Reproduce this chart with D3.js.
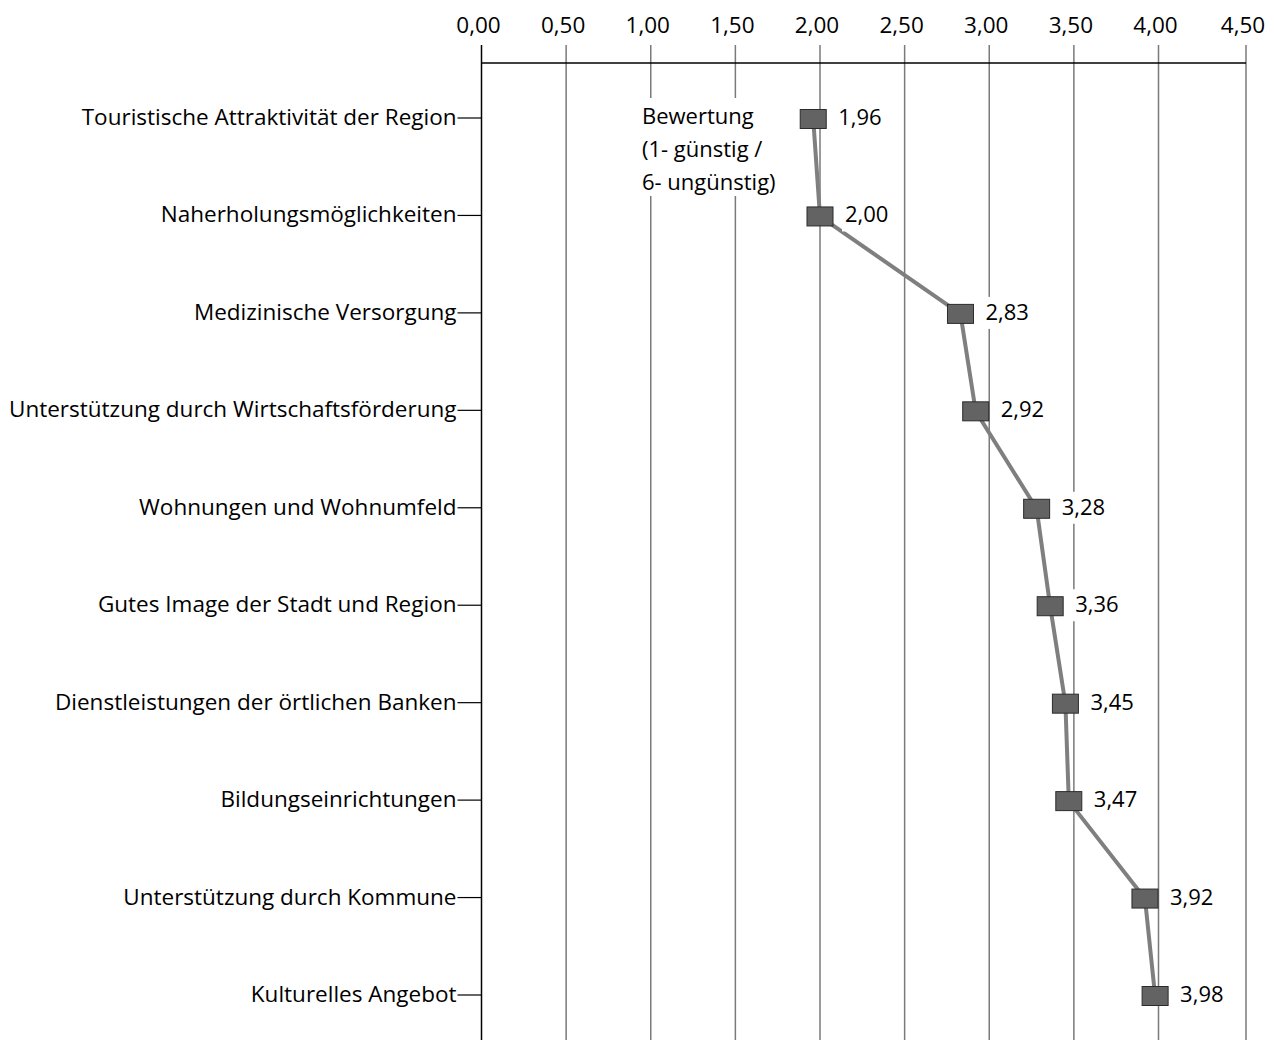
<!DOCTYPE html>
<html><head><meta charset="utf-8">
<script src="https://cdn.jsdelivr.net/npm/d3@7"></script>
<style>
html,body{margin:0;padding:0;background:#fff;}
text{font-family:"Open Sans",Lato,sans-serif;fill:#000;}
</style></head>
<body>
<svg id="chart" width="1274" height="1040"></svg>
<script>
const categories = [
  "Touristische Attraktivität der Region",
  "Naherholungsmöglichkeiten",
  "Medizinische Versorgung",
  "Unterstützung durch Wirtschaftsförderung",
  "Wohnungen und Wohnumfeld",
  "Gutes Image der Stadt und Region",
  "Dienstleistungen der örtlichen Banken",
  "Bildungseinrichtungen",
  "Unterstützung durch Kommune",
  "Kulturelles Angebot"
];
const values = [1.96, 2.00, 2.83, 2.92, 3.28, 3.36, 3.45, 3.47, 3.92, 3.98];
const tickValues = [0, 0.5, 1, 1.5, 2, 2.5, 3, 3.5, 4, 4.5];
const noteLines = ["Bewertung", "(1- günstig /", "6- ungünstig)"];

(function () {
const svg = d3.select("#chart");
const fmt = v => d3.format(".2f")(v).replace(".", ",");

const x = d3.scaleLinear().domain([0, 4, 4.5]).range([481.5, 1158.5, 1246]);
const y = d3.scalePoint().domain(categories).range([118, 995]);
const axisY = 63, bottomY = 1040;

svg.append("g").selectAll("line").data(tickValues).join("line")
  .attr("x1", d => x(d)).attr("x2", d => x(d))
  .attr("y1", 45).attr("y2", bottomY)
  .attr("stroke", d => d === 0 ? "#000" : "#7a7a7a")
  .attr("stroke-width", 1.5);

svg.append("g").selectAll("text").data(tickValues).join("text")
  .attr("x", d => x(d) - 3).attr("y", 33)
  .attr("text-anchor", "middle")
  .style("font-size", "22.5px")
  .text(d => fmt(d));

svg.append("line").attr("x1", x(0)).attr("x2", x(4.5))
  .attr("y1", axisY).attr("y2", axisY).attr("stroke", "#000").attr("stroke-width", 1.5);

const yg = svg.append("g");
yg.selectAll("line").data(categories).join("line")
  .attr("x1", x(0) - 24).attr("x2", x(0))
  .attr("y1", d => y(d)).attr("y2", d => y(d))
  .attr("stroke", "#000").attr("stroke-width", 1.2);
yg.selectAll("text").data(categories).join("text")
  .attr("x", x(0) - 25).attr("y", d => y(d) + 7)
  .attr("text-anchor", "end")
  .style("font-size", "22.5px")
  .text(d => d);

const note = svg.append("g");
note.append("rect").attr("x", 636).attr("y", 98).attr("width", 152).attr("height", 98).attr("fill", "#fff");
note.selectAll("text").data(noteLines).join("text")
  .attr("x", 642).attr("y", (d, i) => 124 + i * 33)
  .style("font-size", "22px")
  .text(d => d);

const pts = categories.map((c, i) => [x(values[i]), y(c) + 1]);
svg.append("path").datum(pts)
  .attr("d", d3.line())
  .attr("fill", "none").attr("stroke", "#7f7f7f").attr("stroke-width", 4);

const lab = svg.append("g");
lab.selectAll("rect").data(values).join("rect")
  .attr("x", d => x(d) + 22).attr("y", (d, i) => y(categories[i]) - 16)
  .attr("width", 52).attr("height", 32).attr("fill", "#fff");
lab.selectAll("text").data(values).join("text")
  .attr("x", d => x(d) + 25).attr("y", (d, i) => y(categories[i]) + 7)
  .style("font-size", "22px")
  .text(d => fmt(d));

svg.append("g").selectAll("rect").data(values).join("rect")
  .attr("x", d => x(d) - 13).attr("y", (d, i) => y(categories[i]) + 1 - 9.5)
  .attr("width", 26).attr("height", 19)
  .attr("fill", "#636363").attr("stroke", "#2b2b2b").attr("stroke-width", 1);
})();
</script>
</body></html>
